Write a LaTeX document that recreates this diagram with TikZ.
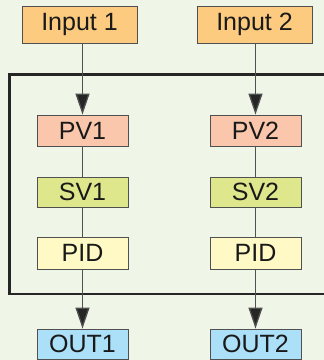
\documentclass[tikz,border=0pt]{standalone}
\usepackage{fontspec}
\setmainfont{Liberation Sans}
\usetikzlibrary{arrows.meta}

\definecolor{bgcol}{HTML}{EFF6E8}
\definecolor{incol}{HTML}{FDCB80}
\definecolor{pvcol}{HTML}{FBC7AC}
\definecolor{svcol}{HTML}{DEE78B}
\definecolor{pidcol}{HTML}{FEF9C5}
\definecolor{outcol}{HTML}{ACDFF8}
\definecolor{linecol}{HTML}{505050}

\tikzset{
  blk/.style={draw=linecol, line width=0.9pt, minimum width=91pt, minimum height=31pt,
    inner sep=0pt, font=\fontsize{25}{25}\selectfont, text=black!90},
  link/.style={draw=linecol, line width=1.3pt},
  flow/.style={link, -{Triangle[length=21pt,width=14pt,fill=black!85]}}
}

\begin{document}
\begin{tikzpicture}[x=1pt,y=-1pt]
				\fill [bgcol] (0,0) rectangle (324,360);
				\clip (0,0) rectangle (324,360);
				\useasboundingbox (0,0) rectangle (324,360);
				% unit frame
				\draw [line width=2.3pt, black!85] (330,74.5) -- (9.5,74.5) -- (9.5,294) -- (330,294);
				% channel 1
				\node (in1) [blk, fill=incol, minimum width=115pt, minimum height=37pt] at (79.5,24.5) {Input 1};
				\node (pv1) [blk, fill=pvcol] at (82.5,130.5) {PV1};
				\node (sv1) [blk, fill=svcol, minimum height=30pt] at (82.5,192) {SV1};
				\node (pid1) [blk, fill=pidcol, minimum height=32pt] at (82.5,253) {PID};
				\node (out1) [blk, fill=outcol, minimum height=30pt] at (82.5,344) {OUT1};
				% channel 2
				\node (in2) [blk, fill=incol, minimum width=115pt, minimum height=37pt] at (254.5,24.5) {Input 2};
				\node (pv2) [blk, fill=pvcol] at (255.5,130.5) {PV2};
				\node (sv2) [blk, fill=svcol, minimum height=30pt] at (255.5,192) {SV2};
				\node (pid2) [blk, fill=pidcol, minimum height=32pt] at (255.5,253) {PID};
				\node (out2) [blk, fill=outcol, minimum height=30pt] at (255.5,344) {OUT2};
				% connectors
				\draw [flow] (in1.south -| pv1.north) -- (pv1.north);
				\draw [link] (pv1) -- (sv1);
				\draw [link] (sv1) -- (pid1);
				\draw [flow] (pid1) -- (out1);
				\draw [flow] (in2.south -| pv2.north) -- (pv2.north);
				\draw [link] (pv2) -- (sv2);
				\draw [link] (sv2) -- (pid2);
				\draw [flow] (pid2) -- (out2);
\end{tikzpicture}
\end{document}
